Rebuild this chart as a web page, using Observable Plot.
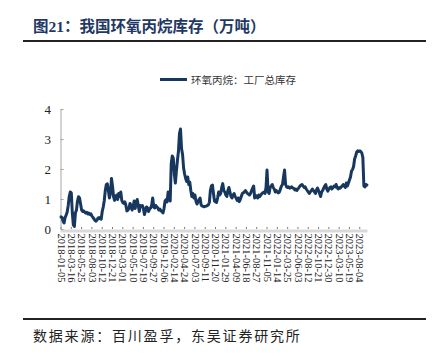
<!DOCTYPE html>
<html><head><meta charset="utf-8">
<script src="https://cdn.jsdelivr.net/npm/d3@7"></script>
<script src="https://cdn.jsdelivr.net/npm/@observablehq/plot@0.6"></script>
<style>
body{margin:0;background:#fff;}
#wrap{position:relative;width:434px;height:357px;overflow:hidden;font-family:"Liberation Serif","Noto Sans CJK SC",serif;}
#title{position:absolute;left:33px;top:14px;font-size:15.5px;font-weight:bold;color:#1f3864;white-space:nowrap;font-family:"Liberation Serif","Noto Sans CJK SC",serif;}
.rule{position:absolute;left:23px;width:403px;height:2px;background:#222;}
#legend{position:absolute;left:160px;top:72px;height:14px;display:flex;align-items:center;font-size:10.5px;color:#333;font-family:"Noto Sans CJK SC",sans-serif;white-space:nowrap;}
#legend .sw{width:27px;height:3px;background:#17375e;margin-right:4px;}
#source{position:absolute;left:33px;top:325px;font-size:14px;letter-spacing:1.8px;color:#222;font-family:"Noto Sans CJK SC",sans-serif;white-space:nowrap;}
#chart{position:absolute;left:0;top:95px;}
</style></head>
<body><div id="wrap">
<div id="title">图21：我国环氧丙烷库存（万吨）</div>
<div class="rule" style="top:40px"></div>
<div id="legend"><span class="sw"></span><span>环氧丙烷：工厂总库存</span></div>
<div id="chart"></div>
<div class="rule" style="top:318px"></div>
<div id="source">数据来源：百川盈孚，东吴证券研究所</div>
</div>
<script>
const tickLabels = ["2018-01-05","2018-03-16","2018-05-25","2018-08-03","2018-10-12","2018-12-21",
"2019-03-01","2019-05-10","2019-07-19","2019-09-27","2019-12-06",
"2020-02-14","2020-04-24","2020-07-03","2020-09-11","2020-11-20",
"2021-01-29","2021-04-09","2021-06-18","2021-08-27","2021-11-05",
"2022-01-14","2022-03-25","2022-06-03","2022-08-12","2022-10-21","2022-12-30",
"2023-03-10","2023-05-19","2023-08-04"];
const yTicks = [0,1,2,3,4];
const inventory = [
0.42,0.40,0.28,0.22,0.40,0.48,0.58,0.80,1.10,1.25,
1.22,0.55,0.15,0.10,0.55,0.65,0.95,1.09,1.05,0.85,
0.65,0.60,0.62,0.58,0.55,0.57,0.52,0.55,0.50,0.52,
0.45,0.40,0.36,0.30,0.28,0.32,0.38,0.40,0.36,0.34,
0.60,0.75,0.97,1.30,1.50,1.52,1.30,1.05,1.20,1.70,
1.45,1.10,0.97,1.10,1.15,1.00,1.20,1.10,1.25,0.97,
0.90,0.87,0.92,0.80,0.62,0.65,0.70,0.87,0.80,0.65,
0.75,0.95,0.70,0.92,1.00,0.80,0.60,0.80,0.78,0.80,
0.70,0.50,0.62,0.75,0.72,0.60,0.68,0.72,0.80,1.05,
0.75,0.72,0.80,0.75,0.72,0.65,0.68,0.62,0.60,0.55,
0.70,0.95,1.00,0.92,1.25,1.10,0.95,2.20,2.45,2.38,
1.85,1.55,1.95,2.30,2.60,3.20,3.35,2.70,2.50,2.05,
1.85,1.70,1.60,1.75,1.50,1.58,1.30,1.10,1.20,1.05,
1.15,0.95,0.85,0.92,1.00,1.05,0.82,0.78,0.77,0.76,
0.77,0.78,0.80,0.82,0.90,1.30,1.45,1.48,1.20,0.95,
0.92,0.90,1.05,1.25,1.15,1.20,1.40,1.53,1.30,1.25,
1.15,1.10,1.30,1.40,1.25,1.10,1.05,1.15,1.20,1.10,
1.05,0.97,1.05,0.93,1.00,1.10,1.20,1.22,1.25,1.30,
1.25,1.20,1.18,1.15,1.20,1.30,1.38,1.45,1.05,1.10,
1.12,1.05,1.15,1.10,1.15,1.20,1.22,1.25,1.20,1.40,
1.98,1.25,1.20,1.40,1.45,1.50,1.40,1.35,1.25,1.30,
1.25,1.22,1.25,1.35,1.45,1.50,1.75,1.98,1.50,1.42,
1.40,1.42,1.38,1.40,1.42,1.38,1.37,1.32,1.35,1.30,
1.35,1.40,1.45,1.48,1.50,1.45,1.40,1.42,1.35,1.30,
1.25,1.20,1.25,1.30,1.35,1.30,1.25,1.20,1.32,1.38,
1.30,1.20,1.10,1.25,1.30,1.38,1.45,1.50,1.35,1.28,
1.35,1.40,1.42,1.35,1.40,1.45,1.42,1.50,1.40,1.35,
1.40,1.38,1.42,1.45,1.50,1.45,1.40,1.55,1.45,1.55,
1.65,1.75,1.95,2.00,2.10,2.35,2.45,2.58,2.62,2.60,
2.62,2.60,2.55,2.40,1.45,1.42,1.50,1.48
];
const data = inventory.map((v, i) => ({i, v}));
const tickIdx = tickLabels.map((_, k) => k * 10);
const navy = "#17375e";

const chart = Plot.plot({
  width: 434,
  height: 200,
  marginLeft: 60.5,
  marginRight: 66.5,
  marginTop: 14,
  marginBottom: 66,
  style: {fontFamily: "'Liberation Serif', serif", background: "transparent"},
  x: {domain: [0, 298], axis: null, label: null},
  y: {domain: [0, 4], axis: null, label: null},
  marks: [
    Plot.ruleY([0], {stroke: "#d9d9d9", strokeWidth: 3, dy: 1.5}),
    Plot.ruleX([0], {stroke: "#a6a6a6", strokeWidth: 1, y1: 0, y2: 4}),
    Plot.ruleY(yTicks, {x1: 0, x2: 3, stroke: "#a6a6a6"}),
    Plot.ruleX(tickIdx, {y1: 0, y2: 0.07, stroke: "#7f7f7f"}),
    Plot.axisY({ticks: yTicks, label: null, tickSize: 0, tickPadding: 10, fontSize: 13, color: "#222", tickFormat: d => d}),
    Plot.axisX({ticks: tickIdx, label: null, tickFormat: i => tickLabels[i / 10], tickRotate: 90, tickSize: 0, tickPadding: 4, fontSize: 10.5, color: "#222"}),
    Plot.line(data, {x: "i", y: "v", stroke: navy, strokeWidth: 3, strokeLinejoin: "round", curve: "linear"})
  ]
});
document.getElementById("chart").appendChild(chart);
</script>
</body></html>
